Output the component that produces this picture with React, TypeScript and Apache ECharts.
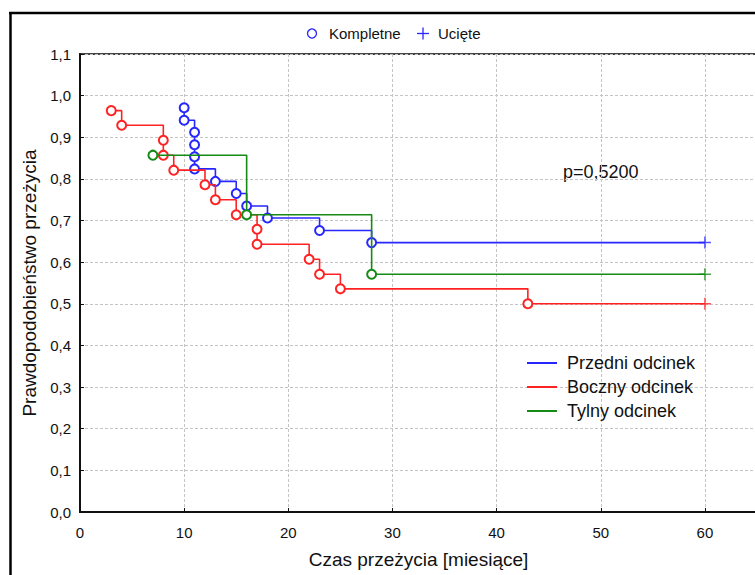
import React, { useEffect, useRef } from "react";
import * as echarts from "echarts";

// Kaplan-Meier data
const przedniTimes = [10, 10, 11, 11, 11, 11, 13, 15, 16, 18, 23, 28];
const przedniSurv = [0.971, 0.941, 0.912, 0.882, 0.853, 0.824, 0.794, 0.765, 0.735, 0.706, 0.676, 0.647];
const bocznyTimes = [3, 4, 8, 8, 9, 12, 13, 15, 17, 17, 22, 23, 25, 43];
const bocznySurv = [0.964, 0.929, 0.893, 0.857, 0.821, 0.786, 0.75, 0.714, 0.679, 0.643, 0.607, 0.571, 0.536, 0.5];
const tylnyTimes = [7, 16, 28];
const tylnySurv = [0.857, 0.714, 0.571];
const censorTime = 60;
const seriesNames = ["Przedni odcinek", "Boczny odcinek", "Tylny odcinek"];
const seriesColors = ["#2626ff", "#ff2222", "#158a15"];
const pValueText = "p=0,5200";
const topLegendLabels = ["Kompletne", "Ucięte"];
const xAxisTitle = "Czas przeżycia [miesiące]";
const yAxisTitle = "Prawdopodobieństwo przeżycia";

const FONT = "'Liberation Sans', Arial, sans-serif";
const PLUS = "path://M0,6L12,6M6,0L6,12";

export default function App() {
  const ref = useRef<HTMLDivElement>(null);
  useEffect(() => {
    if (!ref.current) return;
    const chart = echarts.init(ref.current, null, { renderer: "svg" });
    const groups = [
      { t: przedniTimes, s: przedniSurv },
      { t: bocznyTimes, s: bocznySurv },
      { t: tylnyTimes, s: tylnySurv },
    ];
    const series: any[] = [];
    groups.forEach((g, k) => {
      const c = seriesColors[k];
      const last = g.s[g.s.length - 1];
      const data: any[] = g.t.map((t, i) => [t, g.s[i]]);
      data.push({ value: [censorTime, last], symbol: "none" });
      series.push({
        name: seriesNames[k],
        type: "line",
        step: "end",
        data,
        symbol: "emptyCircle",
        symbolSize: 9,
        showAllSymbol: true,
        lineStyle: { color: c, width: 1.6 },
        itemStyle: { color: c, borderWidth: 1.2 },
        z: 3 + k,
      });
      series.push({
        name: seriesNames[k] + " ucięte",
        type: "scatter",
        data: [[censorTime, last]],
        symbol: PLUS,
        symbolSize: 12,
        itemStyle: { color: "none", borderColor: c, borderWidth: 1.5 },
        z: 6,
      });
    });

    chart.setOption({
      animation: false,
      backgroundColor: "#ffffff",
      textStyle: { fontFamily: FONT },
      grid: {
        left: 80,
        top: 54,
        width: 677,
        height: 458,
        show: true,
        borderColor: "#444",
        borderWidth: 2,
        backgroundColor: "transparent",
        outerBoundsMode: "none",
        containLabel: false,
      },
      legend: {
        data: seriesNames,
        orient: "vertical",
        left: 527,
        top: 354,
        padding: 0,
        icon: "rect",
        itemWidth: 30,
        itemHeight: 2,
        itemGap: 6,
        selectedMode: false,
        itemStyle: { borderWidth: 0 },
        textStyle: { fontSize: 18, color: "#111", fontFamily: FONT, padding: [0, 0, 0, 5] },
      },
      xAxis: {
        type: "value",
        min: 0,
        max: 65,
        interval: 10,
        name: xAxisTitle,
        nameLocation: "middle",
        nameGap: 38,
        nameTextStyle: { fontSize: 19, color: "#111", fontFamily: FONT },
        axisLine: { show: true, onZero: false, lineStyle: { color: "#111", width: 2 } },
        axisTick: { show: true, inside: true, length: 4, lineStyle: { color: "#111" } },
        axisLabel: {
          fontSize: 15,
          color: "#111",
          margin: 13,
          fontFamily: FONT,
          showMaxLabel: false,
          formatter: (v: number) => (v > 60 ? "" : String(v)),
        },
        splitLine: { show: true, lineStyle: { color: "#c4c4c4", type: [3, 2], width: 1 } },
      },
      yAxis: {
        type: "value",
        min: 0,
        max: 1.1,
        interval: 0.1,
        name: yAxisTitle,
        nameLocation: "middle",
        nameGap: 39,
        nameTextStyle: { fontSize: 19, color: "#111", fontFamily: FONT },
        axisLine: { show: true, onZero: false, lineStyle: { color: "#111", width: 2 } },
        axisTick: { show: true, inside: true, length: 4, lineStyle: { color: "#111" } },
        axisLabel: {
          fontSize: 15,
          color: "#111",
          margin: 9,
          fontFamily: FONT,
          formatter: (v: number) => v.toFixed(1).replace(".", ","),
        },
        splitLine: { show: true, lineStyle: { color: "#c4c4c4", type: [3, 2], width: 1 } },
      },
      graphic: [
        { type: "line", shape: { x1: 9, y1: 13, x2: 760, y2: 13 }, style: { stroke: "#000", lineWidth: 2.5 }, silent: true },
        { type: "line", shape: { x1: 10.5, y1: 12, x2: 10.5, y2: 580 }, style: { stroke: "#000", lineWidth: 2.5 }, silent: true },
        { type: "circle", shape: { cx: 312, cy: 33.5, r: 4.5 }, style: { fill: "#fff", stroke: "#2626ff", lineWidth: 1.3 }, silent: true },
        { type: "text", x: 329, y: 33.5, style: { text: topLegendLabels[0], font: `15px ${FONT}`, fill: "#111", verticalAlign: "middle" }, silent: true },
        { type: "line", shape: { x1: 417, y1: 33.5, x2: 429, y2: 33.5 }, style: { stroke: "#2626ff", lineWidth: 1.3 }, silent: true },
        { type: "line", shape: { x1: 423, y1: 27.5, x2: 423, y2: 39.5 }, style: { stroke: "#2626ff", lineWidth: 1.3 }, silent: true },
        { type: "text", x: 438, y: 33.5, style: { text: topLegendLabels[1], font: `15px ${FONT}`, fill: "#111", verticalAlign: "middle" }, silent: true },
        { type: "text", x: 563, y: 172, style: { text: pValueText, font: `18px ${FONT}`, fill: "#111", verticalAlign: "middle" }, silent: true },
      ],
      series,
    });
    return () => chart.dispose();
  }, []);
  return (
    <div
      ref={ref}
      style={{ position: "fixed", left: 0, top: 0, width: 755, height: 575, background: "#fff" }}
    />
  );
}
